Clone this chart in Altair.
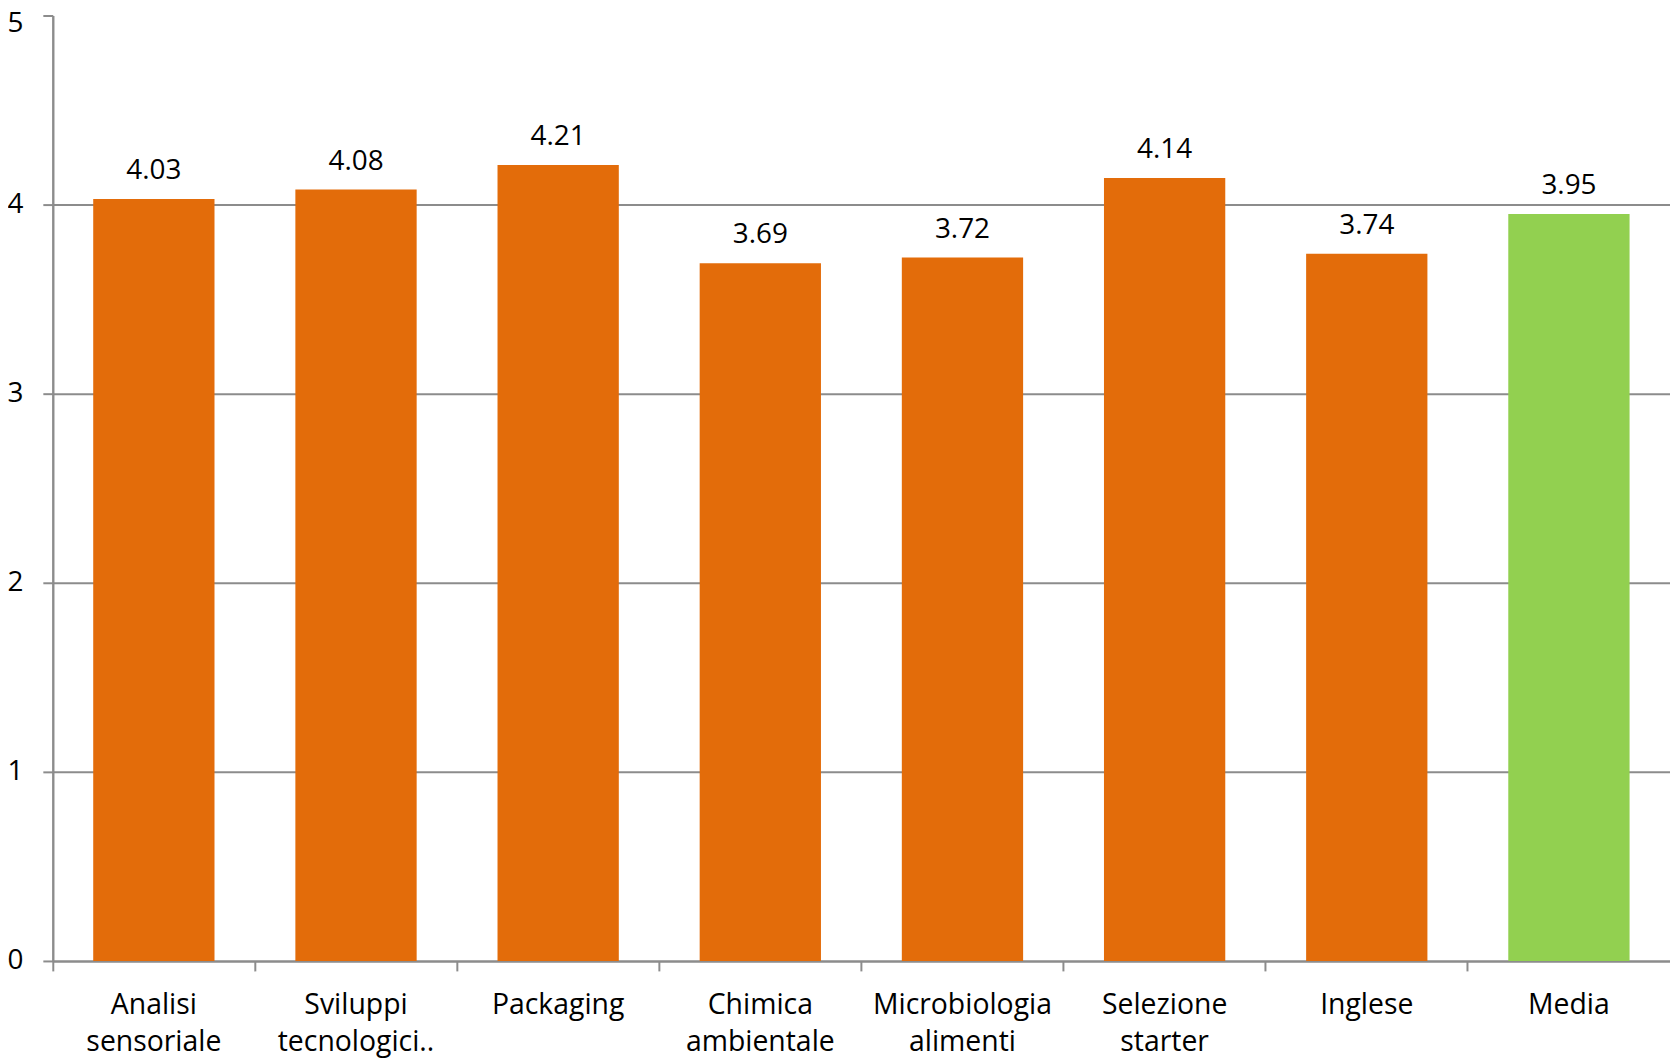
import altair as alt
import pandas as pd

categories = ["Analisi sensoriale", "Sviluppi tecnologici..", "Packaging", "Chimica ambientale",
              "Microbiologia alimenti", "Selezione starter", "Inglese", "Media"]
values = [4.03, 4.08, 4.21, 3.69, 3.72, 4.14, 3.74, 3.95]
groups = ["corso", "corso", "corso", "corso", "corso", "corso", "corso", "media"]
y_ticks = [0, 1, 2, 3, 4]
y_top_tick = [5]

df = pd.DataFrame({"cat": categories, "val": values, "grp": groups,
                   "lbl": [f"{v:.2f}" for v in values]})

FONT = "Open Sans"
GRAY = "#8c8c8c"

yaxis_style = dict(format="d", labelFont=FONT, labelFontSize=28, labelColor="#000000",
                   labelPadding=20, tickSize=10, tickColor=GRAY, tickWidth=2,
                   domainColor=GRAY, domainWidth=2, gridColor=GRAY, gridWidth=2, orient="left")

x = alt.X("cat:N", sort=categories, title=None,
          scale=alt.Scale(paddingInner=0.4, paddingOuter=0.2),
          axis=alt.Axis(labelAngle=0, labelFont=FONT, labelFontSize=28.5, labelColor="#000000",
                        labelExpr="split(datum.label, ' ')", labelLineHeight=37,
                        labelBaseline="alphabetic", labelPadding=43,
                        tickSize=10, tickColor=GRAY, tickWidth=2, bandPosition=-1/3,
                        domainColor=GRAY, domainWidth=2, grid=False))

bars = alt.Chart(df).mark_bar().encode(
    x=x,
    y=alt.Y("val:Q", title=None, scale=alt.Scale(domain=[0, 5], nice=False),
            axis=alt.Axis(values=y_ticks, **yaxis_style)),
    color=alt.Color("grp:N", scale=alt.Scale(domain=["corso", "media"], range=["#E36C0A", "#92D050"]),
                    legend=None),
)
text = alt.Chart(df).mark_text(font=FONT, fontSize=28, color="#000000", baseline="alphabetic", dy=-20).encode(
    x=alt.X("cat:N", sort=categories),
    y=alt.Y("val:Q", title=None, scale=alt.Scale(domain=[0, 5], nice=False),
            axis=alt.Axis(values=y_top_tick, labelOffset=8, **yaxis_style)),
    text="lbl:N")

chart = (bars + text).resolve_axis(y="independent").properties(
    width=1625, height=950,
    padding={"left": 45, "top": 5, "right": 0, "bottom": 100},
    autosize=alt.AutoSizeParams(type="none"),
).configure_view(stroke=None)

chart.save("out.html", embed_options={"renderer": "svg", "actions": False})
